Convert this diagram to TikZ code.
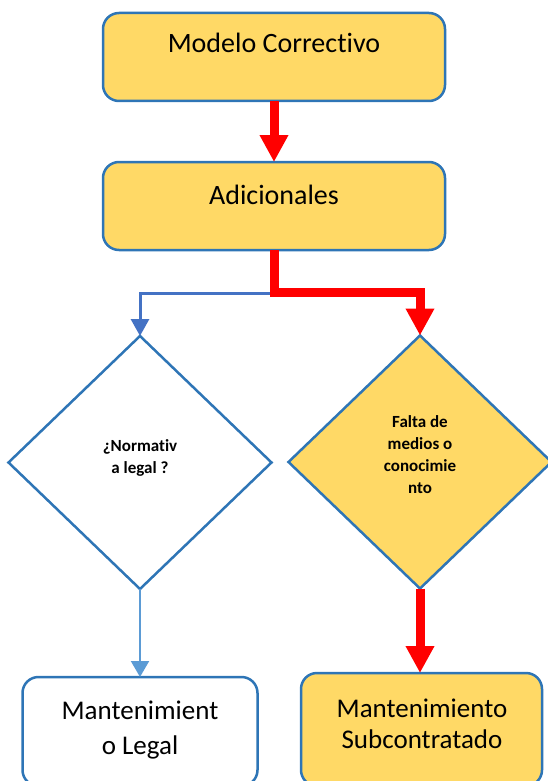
\documentclass[tikz,border=0pt]{standalone}
\usepackage{fontspec}
\setmainfont{Carlito}[Ligatures=NoCommon]
\usetikzlibrary{shapes.geometric,arrows.meta}
\definecolor{boxgold}{RGB}{255,217,102}
\definecolor{edgeblue}{RGB}{46,117,182}
\definecolor{flowred}{RGB}{255,0,0}
\definecolor{linkblue}{RGB}{68,114,196}
\definecolor{paleblue}{RGB}{91,155,213}
\begin{document}
\begin{tikzpicture}[x=1pt,y=-1pt,
  stepbox/.style={rectangle, draw=edgeblue, line width=2.5pt, rounded corners=16pt,
    inner sep=0pt, outer sep=0pt},
  gold/.style={fill=boxgold},
  plain/.style={fill=white},
  decision/.style={diamond, draw=edgeblue, line width=2.5pt, inner sep=0pt, outer sep=0pt,
    minimum width=263pt, minimum height=253pt},
  boxtext/.style={inner sep=0pt, align=center, anchor=base},
  asktext/.style={inner sep=0pt, align=center, anchor=base,
    font=\fontsize{17}{22}\selectfont\bfseries},
  redflow/.style={draw=flowred, line width=9pt, -{Triangle[width=27pt,length=27pt]}},
  blueflow/.style={draw=linkblue, line width=3pt, -{Triangle[width=18pt,length=17pt]}},
  paleflow/.style={draw=paleblue, line width=2pt, -{Triangle[width=18pt,length=16pt]}},
]
\useasboundingbox (0,0) rectangle (548,781);
\clip (0,0) rectangle (548,781);

% process boxes
\node[stepbox, gold, minimum width=342pt, minimum height=88pt] (modelo) at (274,57) {};
\node[stepbox, gold, minimum width=342pt, minimum height=88pt] (adic) at (274,206) {};
\node[stepbox, plain, minimum width=235pt, minimum height=109pt] (legal) at (140,731.5) {};
\node[stepbox, gold, minimum width=241pt, minimum height=113pt] (subc) at (421.5,729.5) {};

% decisions
\node[decision, plain] (q1) at (140,462.5) {};
\node[decision, gold] (q2) at (420,462) {};

% texts (multi-line nodes sit on the baseline of their last line)
\node[boxtext, font=\fontsize{28}{34}\selectfont] (modeloT) at (274,53) {Modelo Correctivo};
\node[boxtext, font=\fontsize{28}{34}\selectfont] (adicT) at (274,204) {Adicionales};
\node[boxtext, font=\fontsize{27}{35}\selectfont] (legalT) at (140,754) {Mantenimient\\o Legal};
\node[boxtext, font=\fontsize{27}{31}\selectfont] (subcT) at (422,748) {Mantenimiento\\Subcontratado};
\node[asktext] (q1T) at (140,473) {¿Normativ\\a legal ?};
\node[asktext] (q2T) at (420,493) {Falta de\\medios o\\conocimie\\nto};

% connectors
\draw[redflow] (modelo.south) -- (adic.north);
\draw[blueflow] (adic.south) -- ++(0,43) -| (q1.north);
\draw[redflow] (adic.south) -- ++(0,42) -| (q2.north);
\draw[paleflow] (q1.south) -- (legal.north);
\draw[redflow] (q2.south) -- (q2.south |- subc.north);
\end{tikzpicture}
\end{document}
